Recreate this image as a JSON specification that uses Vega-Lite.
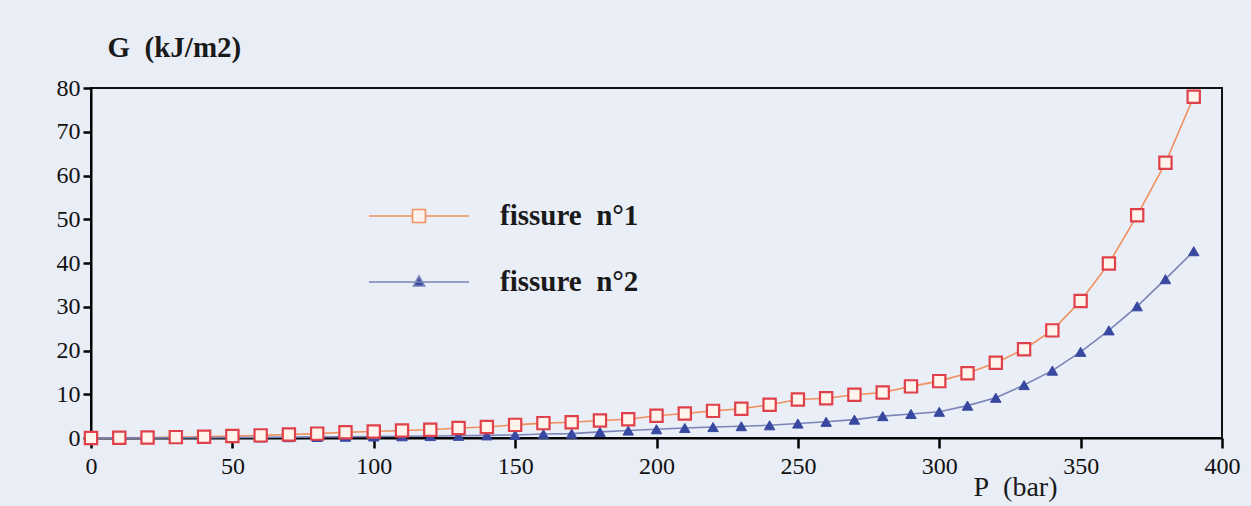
{
  "$schema": "https://vega.github.io/schema/vega-lite/v6.json",
  "autosize": {"type": "none"},
  "padding": {"left": 91, "top": 88, "right": 29, "bottom": 68},
  "width": 1131,
  "height": 350,
  "background": "#e9edf6",
  "config": {
    "view": {"stroke": "#111111", "strokeWidth": 2, "fill": "#eaeef7"}
  },
  "data": {"values": [
    {"P": 0, "G": 0, "s": "fissure n°1"}, {"P": 10, "G": 0.05, "s": "fissure n°1"}, {"P": 20, "G": 0.1, "s": "fissure n°1"}, {"P": 30, "G": 0.2, "s": "fissure n°1"},
    {"P": 40, "G": 0.3, "s": "fissure n°1"}, {"P": 50, "G": 0.45, "s": "fissure n°1"}, {"P": 60, "G": 0.6, "s": "fissure n°1"}, {"P": 70, "G": 0.8, "s": "fissure n°1"},
    {"P": 80, "G": 1.0, "s": "fissure n°1"}, {"P": 90, "G": 1.3, "s": "fissure n°1"}, {"P": 100, "G": 1.5, "s": "fissure n°1"}, {"P": 110, "G": 1.7, "s": "fissure n°1"},
    {"P": 120, "G": 1.9, "s": "fissure n°1"}, {"P": 130, "G": 2.3, "s": "fissure n°1"}, {"P": 140, "G": 2.5, "s": "fissure n°1"}, {"P": 150, "G": 3.0, "s": "fissure n°1"},
    {"P": 160, "G": 3.4, "s": "fissure n°1"}, {"P": 170, "G": 3.6, "s": "fissure n°1"}, {"P": 180, "G": 4.0, "s": "fissure n°1"}, {"P": 190, "G": 4.3, "s": "fissure n°1"},
    {"P": 200, "G": 5.1, "s": "fissure n°1"}, {"P": 210, "G": 5.6, "s": "fissure n°1"}, {"P": 220, "G": 6.2, "s": "fissure n°1"}, {"P": 230, "G": 6.7, "s": "fissure n°1"},
    {"P": 240, "G": 7.6, "s": "fissure n°1"}, {"P": 250, "G": 8.8, "s": "fissure n°1"}, {"P": 260, "G": 9.1, "s": "fissure n°1"}, {"P": 270, "G": 9.9, "s": "fissure n°1"},
    {"P": 280, "G": 10.4, "s": "fissure n°1"}, {"P": 290, "G": 11.8, "s": "fissure n°1"}, {"P": 300, "G": 13.0, "s": "fissure n°1"}, {"P": 310, "G": 14.8, "s": "fissure n°1"},
    {"P": 320, "G": 17.2, "s": "fissure n°1"}, {"P": 330, "G": 20.3, "s": "fissure n°1"}, {"P": 340, "G": 24.6, "s": "fissure n°1"}, {"P": 350, "G": 31.3, "s": "fissure n°1"},
    {"P": 360, "G": 39.9, "s": "fissure n°1"}, {"P": 370, "G": 50.9, "s": "fissure n°1"}, {"P": 380, "G": 62.9, "s": "fissure n°1"}, {"P": 390, "G": 78.0, "s": "fissure n°1"},
    {"P": 0, "G": 0, "s": "fissure n°2"}, {"P": 10, "G": 0.02, "s": "fissure n°2"}, {"P": 20, "G": 0.04, "s": "fissure n°2"}, {"P": 30, "G": 0.06, "s": "fissure n°2"},
    {"P": 40, "G": 0.08, "s": "fissure n°2"}, {"P": 50, "G": 0.1, "s": "fissure n°2"}, {"P": 60, "G": 0.15, "s": "fissure n°2"}, {"P": 70, "G": 0.2, "s": "fissure n°2"},
    {"P": 80, "G": 0.25, "s": "fissure n°2"}, {"P": 90, "G": 0.3, "s": "fissure n°2"}, {"P": 100, "G": 0.35, "s": "fissure n°2"}, {"P": 110, "G": 0.4, "s": "fissure n°2"},
    {"P": 120, "G": 0.45, "s": "fissure n°2"}, {"P": 130, "G": 0.5, "s": "fissure n°2"}, {"P": 140, "G": 0.6, "s": "fissure n°2"}, {"P": 150, "G": 0.7, "s": "fissure n°2"},
    {"P": 160, "G": 0.9, "s": "fissure n°2"}, {"P": 170, "G": 1.0, "s": "fissure n°2"}, {"P": 180, "G": 1.4, "s": "fissure n°2"}, {"P": 190, "G": 1.7, "s": "fissure n°2"},
    {"P": 200, "G": 2.0, "s": "fissure n°2"}, {"P": 210, "G": 2.3, "s": "fissure n°2"}, {"P": 220, "G": 2.5, "s": "fissure n°2"}, {"P": 230, "G": 2.7, "s": "fissure n°2"},
    {"P": 240, "G": 2.9, "s": "fissure n°2"}, {"P": 250, "G": 3.3, "s": "fissure n°2"}, {"P": 260, "G": 3.7, "s": "fissure n°2"}, {"P": 270, "G": 4.2, "s": "fissure n°2"},
    {"P": 280, "G": 5.0, "s": "fissure n°2"}, {"P": 290, "G": 5.5, "s": "fissure n°2"}, {"P": 300, "G": 6.0, "s": "fissure n°2"}, {"P": 310, "G": 7.4, "s": "fissure n°2"},
    {"P": 320, "G": 9.2, "s": "fissure n°2"}, {"P": 330, "G": 12.1, "s": "fissure n°2"}, {"P": 340, "G": 15.4, "s": "fissure n°2"}, {"P": 350, "G": 19.7, "s": "fissure n°2"},
    {"P": 360, "G": 24.6, "s": "fissure n°2"}, {"P": 370, "G": 30.1, "s": "fissure n°2"}, {"P": 380, "G": 36.3, "s": "fissure n°2"}, {"P": 390, "G": 42.7, "s": "fissure n°2"}
  ]},
  "encoding": {
    "x": {
      "field": "P", "type": "quantitative",
      "scale": {"domain": [0, 400], "nice": false, "zero": false},
      "axis": {
        "tickCount": 8, "ticks": true, "tickSize": 10, "tickWidth": 2.5, "tickColor": "#000000", "tickOpacity": 1,
        "domainColor": "black", "domainWidth": 2,
        "labelPadding": 6, "grid": false, "labelFont": "Liberation Serif", "labelFontSize": 24, "labelColor": "#111111", "labelFlush": false,
        "title": "P\u00a0\u00a0(bar)", "titleFont": "Liberation Serif", "titleFontSize": 28, "titleFontWeight": "normal",
        "titleColor": "#1a1a1a", "titleX": 924, "titleY": 57, "titleAlign": "center", "titleBaseline": "alphabetic"
      }
    },
    "y": {
      "field": "G", "type": "quantitative",
      "scale": {"domain": [0, 80], "nice": false},
      "axis": {
        "tickCount": 8, "ticks": true, "tickSize": 8, "tickWidth": 2.5, "tickColor": "#000000", "tickOpacity": 1,
        "domainColor": "black", "domainWidth": 2,
        "labelPadding": 3, "grid": false, "labelFont": "Liberation Serif", "labelFontSize": 24, "labelColor": "#111111", "labelFlush": false,
        "title": "G\u00a0\u00a0(kJ/m2)", "titleFont": "Liberation Serif", "titleFontSize": 29, "titleFontWeight": "bold",
        "titleColor": "#1a1a1a", "titleAngle": 0, "titleX": 16, "titleY": -32, "titleAlign": "left", "titleBaseline": "alphabetic"
      }
    }
  },
  "layer": [
    {
      "mark": {"type": "line", "strokeWidth": 1.6},
      "encoding": {
        "color": {
          "field": "s", "type": "nominal",
          "scale": {"domain": ["fissure n°1", "fissure n°2"], "range": ["#f0905e", "#7a84b8"]},
          "legend": {
            "title": null, "orient": "none", "legendX": 277, "legendY": 77, "padding": 0,
            "labelFont": "Liberation Serif", "labelFontSize": 29, "labelFontWeight": "bold", "labelColor": "#1a1a1a",
            "labelOffset": 30, "rowPadding": -8, "symbolSize": 10000, "symbolStrokeWidth": 1.5,
            "labelExpr": "replace(datum.label, ' ', '\u00a0\u00a0')",
            "encode": {
              "symbols": {
                "update": {
                  "shape": {"signal": "datum.value == 'fissure n°1' ? 'M-1,0H-0.13M0.13,0H1M-0.13,-0.13H0.13V0.13H-0.13Z' : 'M-1,0H1M0,-0.12L0.11,0.08H-0.11Z'"},
                  "fill": {"signal": "datum.value == 'fissure n°1' ? '#fff4ec' : '#3848a0'"},
                  "stroke": {"signal": "datum.value == 'fissure n°1' ? '#e8604a' : '#4858a0'"},
                  "strokeWidth": {"value": 1.6},
                  "opacity": {"value": 1}
                }
              }
            }
          }
        }
      }
    },
    {
      "transform": [{"filter": "datum.s == 'fissure n°2'"}],
      "mark": {"type": "point", "shape": "triangle-up", "size": 110, "filled": true, "fill": "#3848a0", "stroke": "#3848a0", "strokeWidth": 1, "opacity": 1}
    },
    {
      "transform": [{"filter": "datum.s == 'fissure n°1'"}],
      "mark": {"type": "point", "shape": "square", "size": 150, "filled": true, "fill": "#fff4ec", "stroke": "#e0404a", "strokeWidth": 2.2, "opacity": 1}
    }
  ]
}
